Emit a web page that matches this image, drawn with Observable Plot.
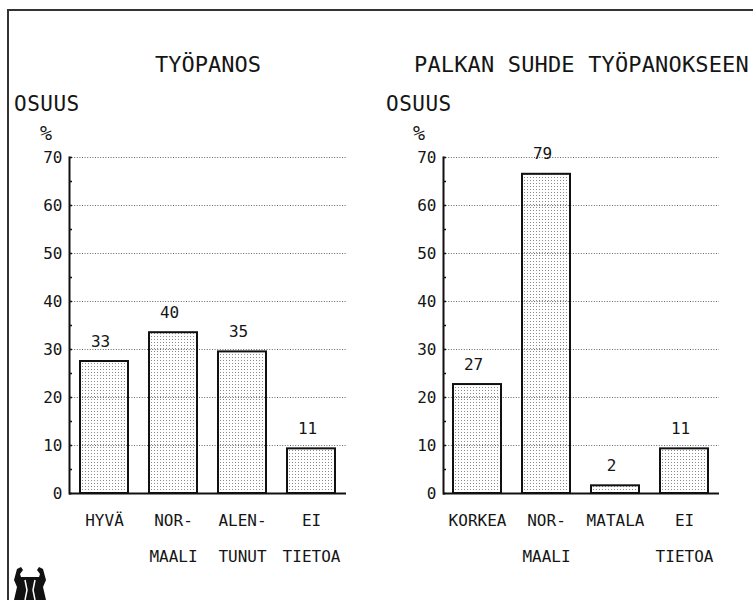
<!DOCTYPE html>
<html><head><meta charset="utf-8">
<script src="https://cdn.jsdelivr.net/npm/d3@7"></script>
<script src="https://cdn.jsdelivr.net/npm/@observablehq/plot@0.6"></script>
<style>
body{margin:0;background:#fff;}
#page{position:relative;width:753px;height:600px;overflow:hidden;font-family:"DejaVu Sans Mono",monospace;color:#151515;background:#fff;}
.t{position:absolute;white-space:pre;line-height:1;}
.plot{position:absolute;top:140px;}
</style></head><body>
<svg width="0" height="0" style="position:absolute"><defs>
<pattern id="dots" width="3" height="3" patternUnits="userSpaceOnUse"><rect x="1" y="1" width="1" height="1" fill="#8a8a8a"/></pattern>
</defs></svg>
<div id="page">
  <div style="position:absolute;left:7px;top:9px;width:800px;height:700px;border-top:2px solid #333;border-left:2px solid #333;"></div>
  <div class="t" style="left:155px;top:54px;font-size:22px;">TYÖPANOS</div>
  <div class="t" style="left:414px;top:54px;font-size:22px;letter-spacing:0.15px;">PALKAN SUHDE TYÖPANOKSEEN</div>
  <div class="t" style="left:14px;top:94px;font-size:21px;letter-spacing:0.5px;">OSUUS</div>
  <div class="t" style="left:386px;top:94px;font-size:21px;letter-spacing:0.5px;">OSUUS</div>
  <div class="t" style="left:40px;top:123px;font-size:20px;">%</div>
  <div class="t" style="left:413px;top:123px;font-size:20px;">%</div>
  <div id="left" class="plot" style="left:0px;"></div>
  <div id="right" class="plot" style="left:376px;"></div>
  <svg style="position:absolute;left:12px;top:566px;" width="38" height="34" viewBox="0 0 38 34">
    <path d="M2,14 L5,3 L9,1 L11,4 L8,8 L9,11 L27,11 L28,8 L25,4 L27,1 L31,3 L34,14 L31,21 L34,34 L2,34 L5,21 Z" fill="#111"/>
    <path d="M13,14 L15,24 L13,34 M23,14 L21,24 L23,34" stroke="#fff" stroke-width="1.5" fill="none"/>
  </svg>
</div>
<script>
const leftCategories = ["HYVÄ", "NORMAALI", "ALENTUNUT", "EI TIETOA"];
const leftTickLabels = ["HYVÄ", "NOR-\nMAALI", "ALEN-\nTUNUT", "EI\nTIETOA"];
const leftBarHeights = [27.5, 33.5, 29.5, 9.3];
const leftValueLabels = [33, 40, 35, 11];

const rightCategories = ["KORKEA", "NORMAALI", "MATALA", "EI TIETOA"];
const rightTickLabels = ["KORKEA", "NOR-\nMAALI", "MATALA", "EI\nTIETOA"];
const rightBarHeights = [22.7, 66.5, 1.6, 9.3];
const rightValueLabels = [27, 79, 2, 11];

const yTicks = [0, 5, 10, 15, 20, 25, 30, 35, 40, 45, 50, 55, 60, 65, 70];
const gridValues = [10, 20, 30, 40, 50, 60, 70];

function panel(categories, tickLabels, heights, labels, marginLeft, marginRight) {
  const data = categories.map((c, i) => ({cat: c, tick: tickLabels[i], h: heights[i], label: labels[i]}));
  return Plot.plot({
    width: 376, height: 440,
    marginLeft, marginRight, marginTop: 17, marginBottom: 87,
    style: {fontFamily: "DejaVu Sans Mono, monospace", fontSize: "16px", color: "#151515", background: "transparent", overflow: "visible"},
    x: {type: "band", domain: categories, paddingInner: 0.3, paddingOuter: 0.15, axis: null},
    y: {domain: [0, 70], axis: null},
    marks: [
      Plot.ruleY(gridValues, {stroke: "#666", strokeDasharray: "1,1.6", strokeWidth: 1}),
      Plot.barY(data, {x: "cat", y: "h", fill: "url(#dots)", stroke: "#111", strokeWidth: 2}),
      Plot.ruleY([0], {stroke: "#111", strokeWidth: 2}),
      Plot.frame({anchor: "left", stroke: "#111", strokeWidth: 2}),
      Plot.axisY({ticks: yTicks, label: null, tickFormat: d => d % 10 === 0 ? String(d) : "", tickSize: -3, tickPadding: 10, fontSize: 16, stroke: "#111", strokeWidth: 1.5, fill: "#151515"}),
      Plot.text(data, {x: "cat", y: "h", text: d => String(d.label), dy: -20, dx: -4, fontSize: 16, fill: "#151515"}),
      Plot.text(data, {x: "cat", text: "tick", frameAnchor: "bottom", lineAnchor: "top", dy: 7, lineHeight: 2.25, fontSize: 16, fill: "#151515"})
    ]
  });
}

document.getElementById("left").append(panel(leftCategories, leftTickLabels, leftBarHeights, leftValueLabels, 69, 30));
document.getElementById("right").append(panel(rightCategories, rightTickLabels, rightBarHeights, rightValueLabels, 67, 33));
</script>
</body></html>
